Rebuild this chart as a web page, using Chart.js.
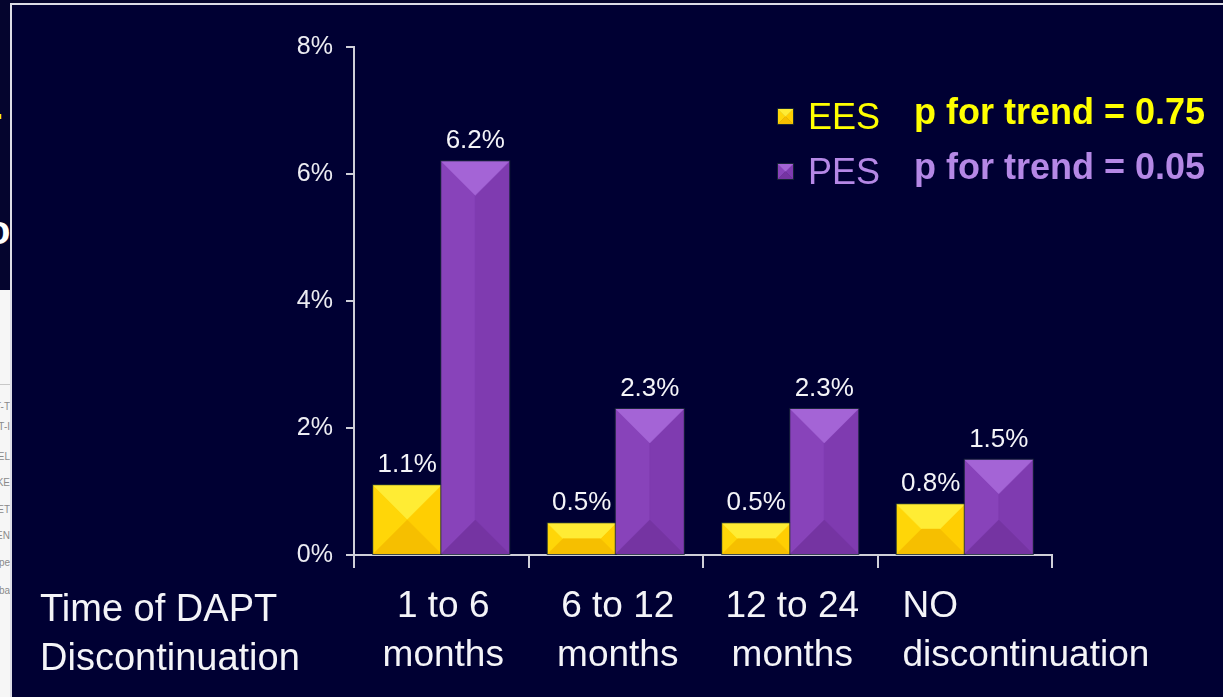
<!DOCTYPE html>
<html>
<head>
<meta charset="utf-8">
<script src="https://cdn.jsdelivr.net/npm/chart.js@4/dist/chart.umd.min.js"></script>
<style>
  html, body { margin: 0; padding: 0; background: #05052e; overflow: hidden; }
  #page { position: relative; width: 1223px; height: 697px; }
  #panel { position: absolute; left: 10px; top: 3px; right: 0; bottom: 0;
    border-top: 2px solid #dcdce6; border-left: 2px solid #dcdce6; background: #000033; }
  #under { position: absolute; left: 0; top: 0; width: 10px; height: 697px; overflow: hidden;
    font-family: Arial, "Liberation Sans", sans-serif; }
  #under .big { position: absolute; left: -14px; font-weight: bold; font-size: 40px; }
  #under .sheet { position: absolute; left: 0; top: 290px; width: 10px; height: 407px; background: #f6f6f6; }
  #under .sheet div { position: absolute; right: 0; font-size: 10px; color: #8a8a8a; white-space: nowrap; }
  #chart { position: absolute; left: 0; top: 0; }
</style>
</head>
<body>
<div id="page">
  <div id="under">
    <div class="big" style="top:100px;color:#ffff00">r</div>
    <div class="big" style="top:208px;color:#ffffff">o</div>
    <div class="sheet">
      <div style="top:94px;left:0;height:1px;background:#c8c8c8;width:10px"></div>
      <div style="top:111px">ST-T</div>
      <div style="top:131px">ST-I</div>
      <div style="top:161px">EL</div>
      <div style="top:187px">KE</div>
      <div style="top:214px">ET</div>
      <div style="top:240px">EN</div>
      <div style="top:267px">pe</div>
      <div style="top:295px">ba</div>
    </div>
  </div>
  <div id="panel"></div>
  <canvas id="chart" width="1223" height="697"></canvas>
</div>
<script>
// DAPT discontinuation: stent thrombosis by time window
const categories = [['1 to 6', 'months'], ['6 to 12', 'months'], ['12 to 24', 'months'], ['NO', 'discontinuation']]
const seriesNames = ['EES', 'PES']
const eesValues = [1.1, 0.5, 0.5, 0.8]
const pesValues = [6.2, 2.3, 2.3, 1.5]
const yTicks = [0, 2, 4, 6, 8]
const trendText = ['p for trend = 0.75', 'p for trend = 0.05']
const axisTitle = ['Time of DAPT', 'Discontinuation']

const FONT = 'Arial, "Liberation Sans", sans-serif'

// face colours for the bevelled bars: top, left, right, bottom
const bevel = {
  EES: { top: '#ffec34', left: '#ffd608', right: '#ffce02', bottom: '#f6bf00', text: '#ffff00' },
  PES: { top: '#a464d6', left: '#8843ba', right: '#7f3bb0', bottom: '#7534a2', text: '#b588e6' }
}

function drawBevelBox (ctx, x, y, w, h, c) {
  const d = Math.min(w, h) / 2
  const faces = [
    [c.left, [[x, y], [x + d, y + d], [x + d, y + h - d], [x, y + h]]],
    [c.right, [[x + w, y], [x + w - d, y + d], [x + w - d, y + h - d], [x + w, y + h]]],
    [c.top, [[x, y], [x + w, y], [x + w - d, y + d], [x + d, y + d]]],
    [c.bottom, [[x, y + h], [x + w, y + h], [x + w - d, y + h - d], [x + d, y + h - d]]]
  ]
  faces.forEach(function (f) {
    ctx.fillStyle = f[0]
    ctx.strokeStyle = f[0]
    ctx.lineWidth = 0.5
    ctx.beginPath()
    f[1].forEach(function (p, i) { i ? ctx.lineTo(p[0], p[1]) : ctx.moveTo(p[0], p[1]) })
    ctx.closePath()
    ctx.fill()
    ctx.stroke()
  })
  ctx.strokeStyle = 'rgba(20,40,50,0.8)'
  ctx.lineWidth = 1
  ctx.strokeRect(x - 0.5, y - 0.5, w + 1, h + 1)
}

const bevelBars = {
  id: 'bevelBars',
  afterDatasetsDraw (chart) {
    const ctx = chart.ctx
    ctx.save()
    chart.data.datasets.forEach(function (ds, di) {
      const meta = chart.getDatasetMeta(di)
      meta.data.forEach(function (bar, i) {
        const left = bar.x - bar.width / 2
        drawBevelBox(ctx, left, bar.y, bar.width, bar.base - bar.y, bevel[ds.label])
        // value label above the bar
        ctx.fillStyle = '#f4f4f8'
        ctx.font = '26px ' + FONT
        ctx.textAlign = 'center'
        ctx.textBaseline = 'alphabetic'
        ctx.fillText(ds.data[i].toFixed(1) + '%', bar.x, bar.y - 13)
      })
    })
    ctx.restore()
  },
  afterDraw (chart) {
    const ctx = chart.ctx
    const xs = chart.scales.x
    ctx.save()
    ctx.fillStyle = '#f4f4f8'
    ctx.font = '37px ' + FONT
    ctx.textBaseline = 'alphabetic'

    // category labels under the axis
    const slot = xs.width / categories.length
    categories.forEach(function (lines, i) {
      const cx = xs.getPixelForValue(i)
      if (i === categories.length - 1) {
        ctx.textAlign = 'left'
        lines.forEach(function (t, k) { ctx.fillText(t, cx - slot / 2 + 25, 617 + k * 49) })
      } else {
        ctx.textAlign = 'center'
        lines.forEach(function (t, k) { ctx.fillText(t, cx + 2, 617 + k * 49) })
      }
    })

    ctx.font = '38px ' + FONT
    ctx.textAlign = 'left'
    axisTitle.forEach(function (t, k) { ctx.fillText(t, 40, 621 + k * 49) })

    // legend with trend p-values
    seriesNames.forEach(function (name, k) {
      const cy = 117 + k * 55
      drawBevelBox(ctx, 778, cy - 8, 15, 15, bevel[name])
      ctx.fillStyle = bevel[name].text
      ctx.textBaseline = 'middle'
      ctx.font = '36px ' + FONT
      ctx.fillText(name, 808, cy + 2)
      ctx.font = 'bold 36px ' + FONT
      ctx.fillText(trendText[k], 914, cy - 3)
    })
    ctx.restore()
  }
}

const ctx = document.getElementById('chart').getContext('2d')
const chart = new Chart(ctx, {
  type: 'bar',
  data: {
    labels: categories.map(function (c) { return c.join(' ') }),
    datasets: [
      { label: seriesNames[0], data: eesValues, backgroundColor: '#ffd200' },
      { label: seriesNames[1], data: pesValues, backgroundColor: '#8040b0' }
    ]
  },
  options: {
    responsive: false,
    animation: false,
    events: [],
    layout: { padding: { left: 264, right: 171, top: 47, bottom: 122 } },
    datasets: { bar: { barPercentage: 1, categoryPercentage: 0.78 } },
    plugins: { legend: { display: false }, tooltip: { enabled: false } },
    scales: {
      x: {
        grid: { drawOnChartArea: false, offset: true, tickLength: 13, color: '#cfcfd8', lineWidth: 2 },
        border: { color: '#cfcfd8', width: 2 },
        ticks: { display: false },
        afterFit (scale) { scale.height = 20 }
      },
      y: {
        min: 0,
        max: 8,
        afterBuildTicks (scale) { scale.ticks = yTicks.map(function (v) { return { value: v } }) },
        grid: { drawOnChartArea: false, tickLength: 8, color: '#cfcfd8', lineWidth: 2 },
        border: { color: '#cfcfd8', width: 2 },
        ticks: {
          color: '#ececf2',
          font: { family: FONT, size: 25 },
          padding: 13,
          callback: function (v) { return v + '%' }
        },
        afterFit (scale) { scale.width = 90 }
      }
    }
  },
  plugins: [bevelBars]
})
</script>
</body>
</html>
